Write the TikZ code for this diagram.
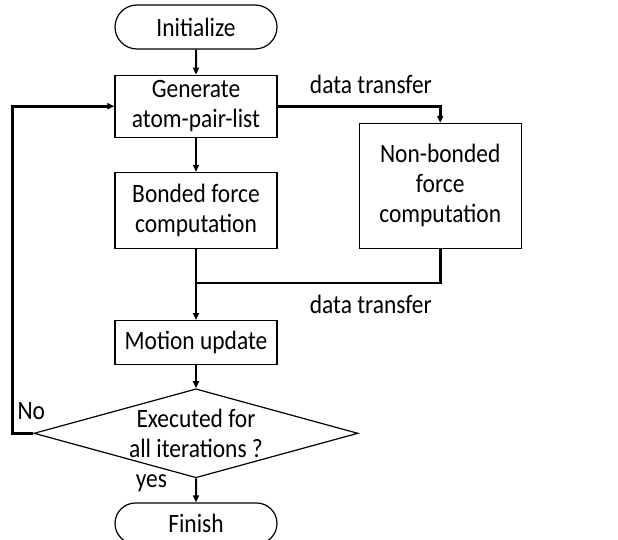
\documentclass[tikz,border=0pt]{standalone}
\usepackage{fontspec}
\setmainfont{Carlito}[FakeStretch=0.885]
\usetikzlibrary{arrows.meta,positioning,shapes.geometric,shapes.misc}

\begin{document}
\begin{tikzpicture}[x=1pt,y=-1pt,>={Triangle[length=7pt,width=6pt]},
  font=\fontsize{26.5pt}{30pt}\selectfont,
  block/.style={draw,rectangle,line width=1.2pt,minimum width=162pt,align=center,inner sep=0pt},
  terminal/.style={draw,rounded rectangle,line width=1.2pt,minimum width=162pt,inner sep=0pt},
  decision/.style={draw,diamond,line width=1.2pt,minimum width=324pt,minimum height=89pt,aspect=3.64,inner sep=0pt,align=center},
  flow/.style={->,line width=2pt},
  route/.style={line width=2.8pt},
  tag/.style={inner sep=3pt}]

  \useasboundingbox (0,0) rectangle (618,540);

  \node[terminal,minimum height=44pt] (init) at (196,27) {Initialize};
  \node[block,minimum height=62pt]    (gen)     [below=25pt of init] {Generate\\atom-pair-list};
  \node[block,minimum height=76pt]    (bond)    [below=34pt of gen]  {Bonded force\\computation};
  \node[block,minimum height=125pt]   (nonbond) [above right=0pt and 81pt of bond.south east] {Non-bonded\\force\\computation};
  \node[block,minimum height=44pt]    (motion)  [below=71pt of bond] {Motion update};
  \node[decision]                     (dec)     [below=23pt of motion] {Executed for\\all iterations ?};
  \node[terminal,minimum height=41pt] (finish)  [below=24pt of dec]  {Finish};

  \coordinate (join) at ([yshift=-34pt]bond.south);
  \coordinate (back) at ([xshift=-21pt]dec.west);

  \draw[flow] (init) -- (gen);
  \draw[flow] (gen) -- (bond);
  \draw[flow,route] (gen.east) -| node[pos=0.287,above=8pt,tag] {data transfer} (nonbond.north);
  \draw[route] (nonbond.south) |- node[pos=0.642,below=8pt,tag] {data transfer} (join);
  \draw[flow,route] (bond) -- (motion);
  \draw[flow] (motion) -- (dec);
  \draw[flow] (dec) -- node[pos=0.2,left=25pt,tag] {yes} (finish);
  \draw[flow,route] (dec.west) -- node[pos=0.1,above=9pt,tag] {No} (back) |- (gen.west);
\end{tikzpicture}
\end{document}
